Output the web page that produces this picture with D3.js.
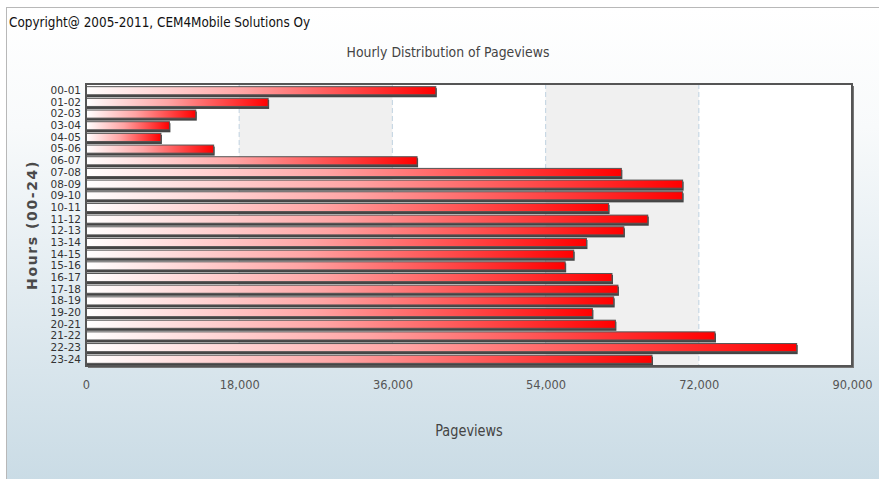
<!DOCTYPE html>
<html>
<head>
<meta charset="utf-8">
<script src="https://cdn.jsdelivr.net/npm/d3@7.9.0/dist/d3.min.js"></script>
<style>
  body { margin: 0; background: #fff; }
  svg { display: block; }
  text { font-family: "DejaVu Sans", sans-serif; }
</style>
</head>
<body>
<svg id="chart" width="879" height="479"></svg>
<script>
// ====== Data ======
const hours = ['00-01', '01-02', '02-03', '03-04', '04-05', '05-06', '06-07', '07-08',
  '08-09', '09-10', '10-11', '11-12', '12-13', '13-14', '14-15', '15-16',
  '16-17', '17-18', '18-19', '19-20', '20-21', '21-22', '22-23', '23-24'];
const pageviews = [41100, 21400, 12900, 9800, 8800, 15000, 38900, 62900,
  70100, 70100, 61400, 66000, 63200, 58800, 57300, 56300,
  61800, 62500, 62000, 59500, 62200, 73900, 83500, 66500];
const xTicks = [0, 18000, 36000, 54000, 72000, 90000];

const data = hours.map((h, i) => ({ hour: h, value: pageviews[i] }));

// squeeze text horizontally, the original uses a narrow font
function narrow(sel, k = 0.84) {
  sel.each(function () {
    const len = this.getComputedTextLength();
    d3.select(this).attr('textLength', len * k).attr('lengthAdjust', 'spacingAndGlyphs');
  });
}

// ====== Setup ======
const svg = d3.select('#chart');
const W = 879, H = 479;
const plot = { left: 86, right: 852, top: 84, bottom: 366 };

const defs = svg.append('defs');

const bg = defs.append('linearGradient').attr('id', 'bg')
  .attr('x1', 0).attr('y1', 0).attr('x2', 0).attr('y2', 1);
bg.append('stop').attr('offset', '0%').attr('stop-color', '#ffffff');
bg.append('stop').attr('offset', '25%').attr('stop-color', '#f8fafb');
bg.append('stop').attr('offset', '100%').attr('stop-color', '#c9dbe5');

const barGrad = defs.append('linearGradient').attr('id', 'barGrad')
  .attr('x1', 0).attr('y1', 0).attr('x2', 1).attr('y2', 0);
barGrad.append('stop').attr('offset', '0%').attr('stop-color', '#ffffff');
barGrad.append('stop').attr('offset', '45%').attr('stop-color', '#ffa4a4');
barGrad.append('stop').attr('offset', '100%').attr('stop-color', '#ff0000');

// frame
svg.append('rect').attr('x', 0).attr('y', 0).attr('width', W).attr('height', H).attr('fill', '#fff');
svg.append('rect')
  .attr('x', 6.5).attr('y', 7.5).attr('width', W).attr('height', H)
  .attr('fill', 'url(#bg)').attr('stroke', '#b8b8b8').attr('stroke-width', 1);

svg.append('text').attr('x', 9).attr('y', 27)
  .attr('font-size', 14).attr('fill', '#111')
  .text('Copyright@ 2005-2011, CEM4Mobile Solutions Oy')
  .call(narrow, 0.86);

svg.append('text').attr('x', 448).attr('y', 57)
  .attr('text-anchor', 'middle').attr('font-size', 14).attr('fill', '#444')
  .text('Hourly Distribution of Pageviews')
  .call(narrow, 0.89);

// ====== Scales ======
const x = d3.scaleLinear().domain([0, 90000]).range([plot.left, plot.right]);
const y = d3.scaleBand().domain(hours)
  .range([plot.top + 1, plot.bottom - 1]).paddingInner(0.22).paddingOuter(0.1);

// plot shadow + background
svg.append('rect')
  .attr('x', plot.left + 2).attr('y', plot.top + 2)
  .attr('width', plot.right - plot.left).attr('height', plot.bottom - plot.top)
  .attr('fill', '#777');
svg.append('rect')
  .attr('x', plot.left).attr('y', plot.top)
  .attr('width', plot.right - plot.left).attr('height', plot.bottom - plot.top)
  .attr('fill', '#fff');

// alternating bands
xTicks.slice(0, -1).forEach((t, i) => {
  if (i % 2 === 1) {
    svg.append('rect')
      .attr('x', x(t)).attr('y', plot.top)
      .attr('width', x(xTicks[i + 1]) - x(t)).attr('height', plot.bottom - plot.top)
      .attr('fill', '#f0f0f0');
  }
});

// grid lines
svg.append('g').selectAll('line')
  .data(xTicks.slice(1, -1))
  .join('line')
  .attr('x1', (d) => x(d)).attr('x2', (d) => x(d))
  .attr('y1', plot.top).attr('y2', plot.bottom)
  .attr('stroke', '#c8d8e4').attr('stroke-width', 1.2)
  .attr('stroke-dasharray', '5,3');

// ====== Bars ======
const bars = svg.append('g');
bars.selectAll('rect.shadow')
  .data(data)
  .join('rect')
  .attr('class', 'shadow')
  .attr('x', x(0) + 1)
  .attr('y', (d) => y(d.hour) + 2)
  .attr('width', (d) => x(d.value) - x(0))
  .attr('height', y.bandwidth())
  .attr('fill', '#444');

bars.selectAll('rect.bar')
  .data(data)
  .join('rect')
  .attr('class', 'bar')
  .attr('x', x(0) + 0.5)
  .attr('y', (d) => y(d.hour) + 0.5)
  .attr('width', (d) => x(d.value) - x(0) - 0.5)
  .attr('height', y.bandwidth() - 1)
  .attr('fill', 'url(#barGrad)')
  .attr('stroke', '#555')
  .attr('stroke-width', 1);

// plot border
svg.append('rect')
  .attr('x', plot.left).attr('y', plot.top)
  .attr('width', plot.right - plot.left).attr('height', plot.bottom - plot.top)
  .attr('fill', 'none').attr('stroke', '#555').attr('stroke-width', 2);

// ====== Axes ======
const xAxis = svg.append('g')
  .attr('transform', `translate(0,${plot.bottom})`)
  .call(d3.axisBottom(x).tickValues(xTicks).tickSize(0).tickPadding(14)
    .tickFormat(d3.format(',')));
xAxis.select('.domain').remove();
xAxis.selectAll('text').attr('font-size', 13).attr('fill', '#555')
  .style('font-family', '"DejaVu Sans", sans-serif')
  .call(narrow, 0.88);

const yAxis = svg.append('g')
  .attr('transform', `translate(${plot.left - 5},0)`)
  .call(d3.axisLeft(y).tickSize(0).tickPadding(0));
yAxis.select('.domain').remove();
yAxis.selectAll('text').attr('font-size', 10.5).attr('fill', '#333')
  .style('font-family', '"DejaVu Sans", sans-serif');

svg.append('text').attr('x', 469).attr('y', 436)
  .attr('text-anchor', 'middle').attr('font-size', 15).attr('fill', '#444')
  .text('Pageviews')
  .call(narrow, 0.86);

svg.append('text')
  .attr('transform', `translate(37,${(plot.top + plot.bottom) / 2}) rotate(-90)`)
  .attr('text-anchor', 'middle').attr('font-size', 14).attr('font-weight', 'bold')
  .attr('letter-spacing', 1.6).attr('fill', '#4a4a4a')
  .style('font-family', '"DejaVu Sans", sans-serif')
  .text('Hours (00-24)');
</script>
</body>
</html>
